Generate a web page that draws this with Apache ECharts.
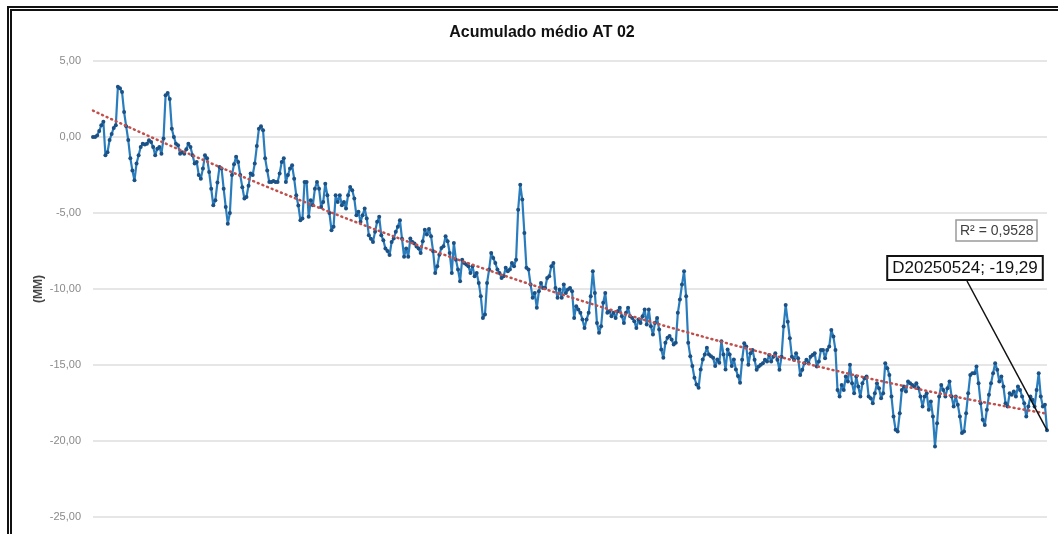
<!DOCTYPE html>
<html>
<head>
<meta charset="utf-8">
<title>Acumulado médio AT 02</title>
<script src="https://cdn.jsdelivr.net/npm/echarts@6/dist/echarts.min.js"></script>
<style>
  html, body { margin: 0; padding: 0; background: #fff; overflow: hidden; }
  #chart { width: 1058px; height: 534px; }
  #frame {
    position: absolute; left: 7px; top: 6px; width: 1200px; height: 700px;
    border: 5px double #111; pointer-events: none;
  }
</style>
</head>
<body>
<div id="chart"></div>
<div id="frame"></div>
<script>
// --- data (mm, one value per reading) ---
const part1 = [
  0.00, 0.00, 0.10, 0.40, 0.77, 1.00, -1.20, -1.00, -0.20, 0.20,
  0.60, 0.77, 3.30, 3.20, 2.96, 1.64, 0.70, -0.20, -1.40, -2.20,
  -2.85, -1.74, -1.20, -0.66, -0.44, -0.50, -0.44, -0.22, -0.33, -0.66,
  -1.20, -0.77, -0.66, -1.10, -0.10, 2.74, 2.90, 2.50, 0.55, 0.00,
  -0.44, -0.55, -1.10, -1.00, -1.10, -0.80, -0.44, -0.66, -1.20, -1.75,
  -1.64, -2.50, -2.74, -2.08, -1.20, -1.40, -2.30, -3.40, -4.49, -4.16,
  -3.00, -1.97, -2.08, -3.40, -4.60, -5.70, -5.00, -2.50, -1.80, -1.30,
  -1.64, -2.50, -3.30, -4.05, -3.95, -3.20, -2.40, -2.50, -1.75, -0.60,
  0.55, 0.70, 0.44, -1.40, -2.20, -2.96, -2.96, -2.90, -2.96, -2.96,
  -2.40, -1.64, -1.40, -2.96, -2.50, -2.08, -1.86, -2.74, -3.83, -4.50,
  -5.47, -5.36, -2.96, -2.96, -5.25, -4.16, -4.49, -3.40, -2.96, -3.40,
  -4.60, -4.27, -3.07, -3.83, -5.00, -6.13, -5.90, -3.83, -4.27, -3.83,
  -4.49, -4.27, -4.70, -3.83, -3.29, -3.50, -4.05, -5.14, -4.92, -5.58,
  -5.14, -4.70, -5.36, -6.46, -6.70, -6.90, -6.24, -5.58, -5.25, -6.46,
  -6.79, -7.34, -7.50, -7.77, -6.90, -6.68, -6.24, -5.90, -5.47, -6.70,
  -7.88, -7.34, -7.88, -6.68, -6.90, -7.00, -7.20, -7.34
];
const part2 = [
  -7.63, -6.86, -6.10, -6.42, -6.05, -6.53, -7.52, -8.94, -8.50, -7.74,
  -7.30, -7.19, -6.53, -6.86, -7.63, -8.94, -6.97, -8.07, -8.72, -9.49,
  -8.07, -8.29, -8.39, -8.50, -8.94, -8.50, -9.16, -8.94, -9.60, -10.48,
  -11.90, -11.68, -9.60, -8.72, -7.63, -7.96, -8.29, -8.72, -8.94, -9.27,
  -9.16, -8.61, -8.83, -8.72, -8.29, -8.50, -8.07, -4.78, -3.14, -4.12,
  -6.31, -8.61, -8.72, -9.71, -10.58, -10.26, -11.24, -10.15, -9.60, -9.93,
  -9.93, -9.27, -9.16, -8.50, -8.29, -9.93, -10.58, -10.04, -10.58, -9.71,
  -10.26, -10.04, -9.93, -10.15, -11.90, -11.13, -11.35, -11.57, -12.00, -12.56,
  -12.00, -11.57, -10.48, -8.83, -10.26, -12.23, -12.88, -12.45, -10.91, -10.26,
  -11.57, -11.46, -11.79, -11.57, -11.90, -11.46, -11.24, -11.79, -12.23, -11.57,
  -11.24, -11.79, -11.90, -12.12, -12.56, -12.00, -12.23, -11.79, -11.35, -12.34,
  -11.35, -12.45, -12.99, -12.23, -11.90, -12.67, -13.98, -14.53, -13.54, -13.21,
  -13.10, -13.32, -13.65, -13.54, -11.57, -10.69, -9.71, -8.83, -10.48, -13.54,
  -14.42, -15.07, -15.84, -16.28, -16.50, -15.29, -14.64, -14.31, -13.87, -14.31,
  -14.42, -14.53, -15.07, -14.64, -14.86, -13.43, -14.31, -15.29, -13.98, -14.31,
  -15.07, -14.64, -15.29, -15.73, -16.17
];
const part3 = [
  -14.66, -13.57, -13.79, -14.99, -14.23, -14.01, -14.66, -15.32, -15.10, -14.99,
  -14.88, -14.66, -14.77, -14.34, -14.77, -14.45, -14.23, -14.66, -15.32, -14.45,
  -12.47, -11.05, -12.15, -13.24, -14.45, -14.66, -14.23, -14.56, -15.65, -15.32,
  -14.88, -14.66, -14.88, -14.45, -14.34, -14.23, -15.10, -14.77, -14.01, -14.01,
  -14.56, -14.01, -13.79, -12.69, -13.13, -14.01, -16.64, -17.07, -16.31, -16.64,
  -15.76, -16.09, -14.99, -16.20, -16.86, -15.76, -16.42, -17.07, -16.20, -15.87,
  -15.76, -17.07, -17.18, -17.51, -16.86, -16.20, -16.53, -17.18, -16.86, -14.88,
  -15.21, -15.65, -17.07, -18.39, -19.26, -19.37, -18.17, -16.64, -16.42, -16.75,
  -16.09, -16.20, -16.31, -16.42, -16.20, -16.53, -17.07, -17.73, -17.07, -16.86,
  -17.95, -17.40, -18.39, -20.36, -18.83, -17.07, -16.31, -16.64, -17.07, -16.53,
  -16.09, -17.07, -17.73, -17.07, -17.62, -18.39, -19.48, -19.37, -18.17, -16.86,
  -15.65, -15.54, -15.54, -15.10, -16.20, -17.51, -18.61, -18.94, -17.95, -16.96,
  -16.20, -15.54, -14.88, -15.32, -16.09, -15.76, -16.42, -17.51, -17.73, -16.86,
  -16.96, -16.75, -17.07, -16.42, -16.64, -17.07, -17.51, -18.39, -17.73, -17.07,
  -17.29, -17.73, -16.64, -15.54, -17.07, -17.73, -17.62, -19.29
];
const lastLabel = 'D20250524';
const rSquaredText = 'R² = 0,9528';
const yTicks = [5, 0, -5, -10, -15, -20, -25];

const values = part1.concat(part2, part3);
const categories = values.map((_, i) => i);
const lastIdx = values.length - 1;

const fmt = v => v.toFixed(2).replace('.', ',');

// polynomial (order 2) trendline, least squares over the plotted values
function quadFit(ys) {
    const n = ys.length;
    let s = [0, 0, 0, 0, 0], t = [0, 0, 0];
    ys.forEach((y, i) => {
        const x = i / (n - 1);
        let p = 1;
        for (let k = 0; k < 5; k++) { s[k] += p; if (k < 3) t[k] += p * y; p *= x; }
    });
    const m = [[s[0], s[1], s[2]], [s[1], s[2], s[3]], [s[2], s[3], s[4]]];
    const det = a => a[0][0] * (a[1][1] * a[2][2] - a[1][2] * a[2][1])
                   - a[0][1] * (a[1][0] * a[2][2] - a[1][2] * a[2][0])
                   + a[0][2] * (a[1][0] * a[2][1] - a[1][1] * a[2][0]);
    const d = det(m);
    const coef = [0, 1, 2].map(c => {
        const mm = m.map((row, r) => row.map((v, j) => (j === c ? t[r] : v)));
        return det(mm) / d;
    });
    return ys.map((_, i) => {
        const x = i / (n - 1);
        return +(coef[0] + coef[1] * x + coef[2] * x * x).toFixed(3);
    });
}
const trend = quadFit(values);

const seriesData = values.map((v, i) => i === lastIdx ? {
    value: v,
    label: {
        show: true,
        formatter: lastLabel + '; ' + fmt(v),
        fontFamily: 'Liberation Sans, Arial, sans-serif',
        fontSize: 17,
        color: '#111',
        backgroundColor: '#fff',
        borderColor: '#111',
        borderWidth: 2,
        padding: [3, 4, 2, 4]
    }
} : v);

const chart = echarts.init(document.getElementById('chart'));

chart.setOption({
    animation: false,
    title: [{
        text: 'Acumulado médio AT 02',
        left: 537,
        top: 20,
        textAlign: 'center',
        textStyle: { fontFamily: 'Liberation Sans, Arial, sans-serif', fontSize: 16, fontWeight: 'bold', color: '#111' }
    }, {
        text: rSquaredText,
        left: 956,
        top: 220,
        padding: [4, 4, 3, 4],
        borderColor: '#9a9a9a',
        borderWidth: 1.5,
        backgroundColor: '#fff',
        textStyle: { fontFamily: 'Liberation Sans, Arial, sans-serif', fontSize: 14, fontWeight: 'normal', color: '#404040' }
    }],
    grid: { left: 93, right: 11, top: 61, bottom: 17 },
    xAxis: {
        type: 'category',
        data: categories,
        boundaryGap: false,
        show: false
    },
    yAxis: {
        type: 'value',
        min: -25,
        max: 5,
        interval: 5,
        name: '(MM)',
        nameLocation: 'middle',
        nameGap: 48,
        nameMoveOverlap: false,
        nameTextStyle: { fontFamily: 'Liberation Sans, Arial, sans-serif', fontSize: 12, fontWeight: 'bold', color: '#444' },
        axisLine: { show: false },
        axisTick: { show: false },
        axisLabel: {
            margin: 12,
            fontFamily: 'Liberation Sans, Arial, sans-serif',
            fontSize: 11,
            color: '#8a8a8a',
            formatter: v => yTicks.includes(v) ? fmt(v) : ''
        },
        splitLine: { lineStyle: { color: '#dedede', width: 1.5 } }
    },
    series: [{
        type: 'line',
        data: seriesData,
        symbol: 'circle',
        symbolSize: 4,
        showAllSymbol: true,
        lineStyle: { color: '#2a7dbd', width: 2.2 },
        itemStyle: { color: '#1b5185' },
        label: { show: false },
        labelLayout: params => params.dataIndex === lastIdx
            ? { x: 965, y: 268, align: 'center', verticalAlign: 'middle' }
            : {},
        markLine: {
            silent: true,
            symbol: 'none',
            label: { show: false },
            lineStyle: { color: '#111', width: 1.5, type: 'solid' },
            data: [[{ coord: [lastIdx, values[lastIdx]] }, { x: 967, y: 281 }]]
        },
        z: 2
    }, {
        type: 'line',
        data: trend,
        symbol: 'none',
        lineStyle: { color: '#c0504d', width: 2.5, type: [1, 4], cap: 'round' },
        z: 3,
        silent: true
    }]
});
</script>
</body>
</html>
